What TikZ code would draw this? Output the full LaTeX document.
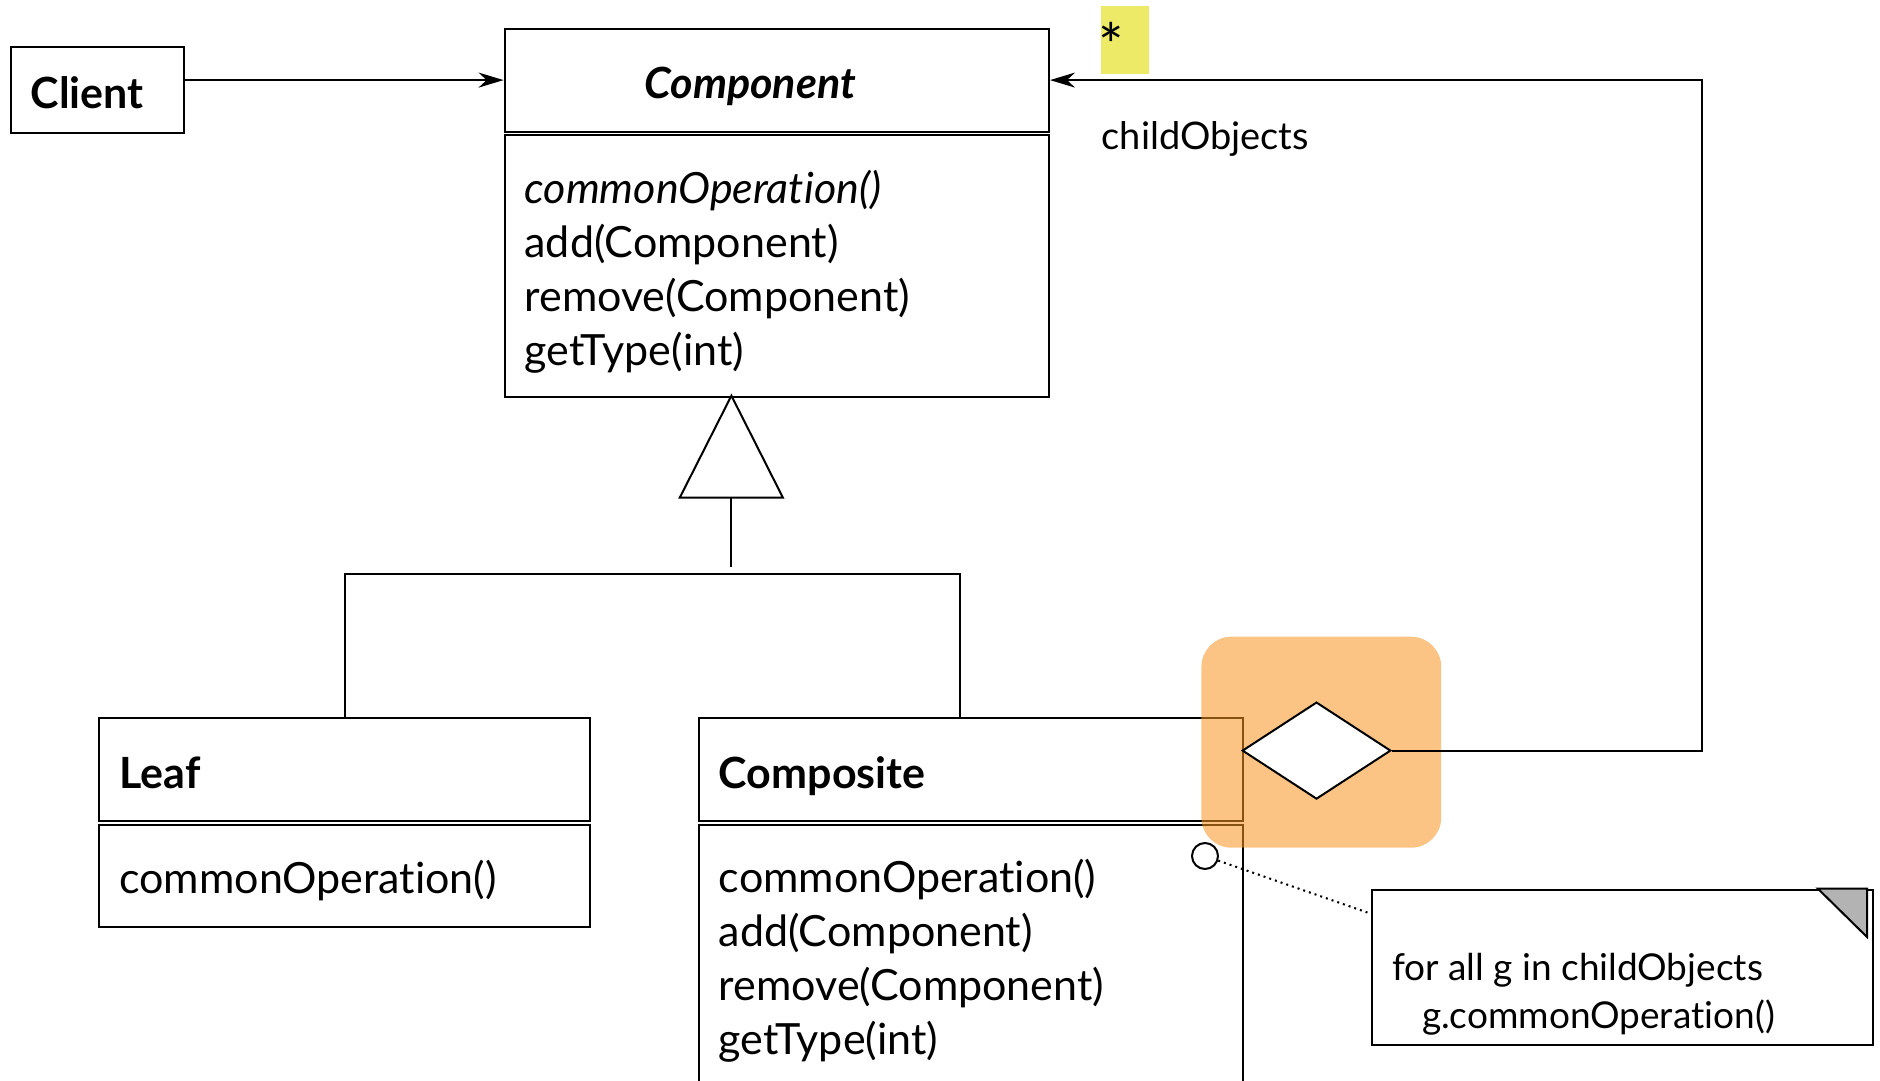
\documentclass[tikz,border=0pt]{standalone}
\usepackage{fontspec}
\setmainfont{Lato}[Ligatures=NoCommon]
\usetikzlibrary{arrows.meta,shapes.geometric}
\definecolor{hlorange}{RGB}{247,148,32}
\definecolor{notegray}{RGB}{179,179,179}
\definecolor{starbg}{RGB}{236,234,102}
\newcommand\umlfont{\fontsize{21.5}{27}\selectfont}
\newcommand\notefont{\fontsize{18.5}{24}\selectfont}
\tikzset{
  umlbox/.style={draw, line width=1pt, anchor=north west, inner sep=0pt, font=\umlfont, text height=22.5pt},
  umlhead/.style={umlbox, minimum height=51.5pt, font=\umlfont\bfseries, text height=18.5pt, text depth=0pt},
  umltext/.style={align=left, text width=#1},
  assoc/.style={-{Stealth[length=12.5pt, width=7.5pt, inset=4pt]}, line width=1pt},
}

\begin{document}
\begin{tikzpicture}[x=0.5pt, y=-0.5pt, line width=1pt]
    \useasboundingbox (0,0) rectangle (1880,1081);
    \clip (0,0) rectangle (1880,1081);
    \node[umlhead, minimum width=86.9pt, minimum height=43.2pt, umltext=66.9pt] (client) at (9.6,45.6) {Client};
    \node[umlhead, minimum width=272.2pt, umltext=252.2pt, font=\umlfont\bfseries\itshape] (compH) at (503.6,27.6) {\hspace*{60pt}Component};
    \node[umlbox, minimum width=272.2pt, minimum height=130.7pt, umltext=252.2pt] (compB) at (503.6,134.3)
      {\textit{commonOperation()}\\add(Component)\\remove(Component)\\getType(int)};
    \node[umlhead, minimum width=245.2pt, umltext=225.2pt] (leafH) at (98.3,717) {Leaf};
    \node[umlbox, minimum width=245.2pt, minimum height=51pt, umltext=225.2pt, text height=21pt] (leafB) at (98.3,823.7) {commonOperation()};
    \node[umlhead, minimum width=272.2pt, umltext=252.2pt] (compoH) at (697.8,717) {Composite};
    \node[umlbox, minimum width=272.2pt, minimum height=130.7pt, umltext=252.2pt] (compoB) at (697.8,823.7)
      {commonOperation()\\add(Component)\\remove(Component)\\getType(int)};
    \coordinate (tri) at (731.4,395.7);
    \coordinate (tribase) at (731.4,497.6);
    \draw (tri) -- (679.8,497.6) -- (782.9,497.6) -- cycle;
    \draw (tribase) -- ++(0,69.4);
    \draw (leafH.north) |- (960,574) -- (960,717);
    \fill[hlorange, fill opacity=0.55, rounded corners=15pt] (1201.4,636.7) rectangle (1441.2,847.7);
    \node[diamond, draw, fill=white, minimum width=74.3pt, minimum height=48.5pt, inner sep=0pt] (agg) at (1316.5,750.6) {};
    \begin{scope}[assoc]
      \draw (client.east |- compH.west) -- (compH.west);
      \draw (agg.east) -- ++(310.6,0) |- (compH.east);
    \end{scope}
    \fill[starbg] (1100.7,6) rectangle (1148.6,74.3);
    \node[font=\fontsize{30}{30}\selectfont, inner sep=0pt, anchor=base west] (mult) at (1097.5,68) {*};
    \node[font=\fontsize{19}{24}\selectfont, inner sep=0pt, anchor=west] (role) at (1100.7,139) {childObjects};
    \node[umlbox, minimum width=250.5pt, minimum height=77.9pt] (note) at (1370.5,888.5) {};
    \filldraw[fill=notegray] (1817.7,888.5) -- (1867,888.5) -- (1867,937) -- cycle;
    \node[font=\notefont, inner sep=0pt, anchor=west, align=left] (notetxt) at (1391,994)
      {for all g in childObjects\\\hspace*{15pt}g.commonOperation()};
    \node[circle, draw, minimum size=13pt, inner sep=0pt] (ring) at (1205,856) {};
    \coordinate (notein) at (1370.5,913.6);
    \draw[dotted] (ring) -- (notein);
\end{tikzpicture}
\end{document}
